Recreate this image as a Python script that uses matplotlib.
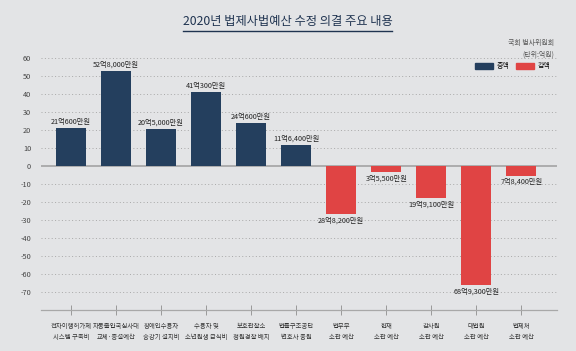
import numpy as np
import matplotlib
matplotlib.use('Agg')
import matplotlib.pyplot as plt
from matplotlib.patches import Patch
from matplotlib.lines import Line2D

plt.rcParams['font.family'] = ['Noto Sans CJK KR', 'DejaVu Sans']

# data
categories = ['전자이행허가제\n시스템 구축비', '자동출입국심사대\n교체·증설예산', '장애인수용자\n승강기 설치비',
              '수용자 및\n소년원생 급식비', '보호관찰소\n청원경찰 배치', '법률구조공단\n변호사 충원',
              '법무부\n소관 예산', '헌재\n소관 예산', '감사원\n소관 예산', '대법원\n소관 예산', '법제처\n소관 예산']
values = [21.06, 52.8, 20.5, 41.03, 24.06, 11.64, -26.8, -3.55, -18.0, -66.3, -5.5]
value_labels = ['21억600만원', '52억8,000만원', '20억5,000만원', '41억300만원', '24억600만원', '11억6,400만원',
                '28억8,200만원', '3억5,500만원', '19억9,100만원', '68억9,300만원', '7억8,400만원']
yticks = list(range(60, -80, -10))

bg = '#e3e4e6'
navy = '#243f5e'
red = '#e04444'

fig = plt.figure(figsize=(5.76, 3.51), dpi=100, facecolor=bg)
ax = fig.add_axes([0.071, 0.1168, 0.896, 0.728], facecolor=bg)

x = np.arange(len(values))
colors = [navy if v > 0 else red for v in values]
ax.bar(x, values, width=0.67, color=colors, zorder=3)

for xi, v, lab in zip(x, values, value_labels):
    if v > 0:
        ax.text(xi, v + 1.2, lab, ha='center', va='bottom', fontsize=5.2, color='#222222', zorder=4)
    else:
        ax.text(xi, v - 1.2, lab, ha='center', va='top', fontsize=5.2, color='#222222', zorder=4)

ax.set_xlim(-0.667, 10.79)
ax.set_ylim(-80, 62)
ax.set_yticks(yticks)
ax.set_yticklabels([str(t) for t in yticks], fontsize=5.3, color='#444444')
ax.tick_params(axis='y', length=0, pad=7)
ax.set_xticks(x)
ax.set_xticklabels(categories, fontsize=4.6, color='#333333', linespacing=1.45)
ax.tick_params(axis='x', direction='inout', length=7, width=0.7, color='#999999', pad=5)

for t in yticks:
    if t != 0:
        ax.axhline(t, color='#a8a8a8', lw=0.7, ls=(0, (1, 2.5)), zorder=1)
ax.axhline(0, color='#a8a8a8', lw=1.3, zorder=2)

for s in ['top', 'right', 'left']:
    ax.spines[s].set_visible(False)
ax.spines['bottom'].set_color('#a8a8a8')
ax.spines['bottom'].set_linewidth(0.9)

handles = [Patch(color=navy, label='증액'), Patch(color=red, label='감액')]
ax.legend(handles=handles, loc='upper right', bbox_to_anchor=(0.995, 0.985), ncol=2, frameon=False,
          fontsize=5.0, handlelength=2.6, handleheight=1.1, handletextpad=0.5, columnspacing=0.9,
          borderaxespad=0.2)

fig.text(0.5, 0.94, '2020년 법제사법예산 수정 의결 주요 내용', ha='center', va='center',
         fontsize=8.8, fontweight='medium', color='#1f3350')
fig.add_artist(Line2D([0.318, 0.681], [0.912, 0.912], color='#1f3350', lw=1.0))

fig.text(0.962, 0.878, '국회 법사위원회', ha='right', va='center', fontsize=5.0, color='#555555')
fig.text(0.962, 0.845, '(단위:억원)', ha='right', va='center', fontsize=5.0, color='#555555')

fig.savefig('out.png', dpi=100, facecolor=bg)
